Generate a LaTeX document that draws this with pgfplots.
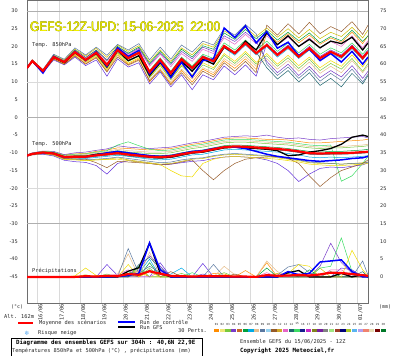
\documentclass[border=0pt]{standalone}
\usepackage{fontspec}
\setmainfont{DejaVu Sans}
\newfontfamily\mono{DejaVu Sans Mono}
\newfontfamily\ttl{Liberation Sans}
\usepackage{graphicx}
\usepackage{pgfplots}
\usepackage{pgfplotstable}
\pgfplotsset{compat=1.18}

\definecolor{m1}{RGB}{255,140,0}
\definecolor{m2}{RGB}{205,190,0}
\definecolor{m3}{RGB}{120,200,60}
\definecolor{m4}{RGB}{120,60,200}
\definecolor{m5}{RGB}{100,50,220}
\definecolor{m6}{RGB}{0,160,60}
\definecolor{m7}{RGB}{0,170,230}
\definecolor{m8}{RGB}{230,190,140}
\definecolor{m9}{RGB}{90,120,160}
\definecolor{m10}{RGB}{60,220,100}
\definecolor{m11}{RGB}{150,90,40}
\definecolor{m12}{RGB}{230,100,200}
\definecolor{m13}{RGB}{30,100,110}
\definecolor{m14}{RGB}{240,220,0}
\definecolor{ctrlc}{RGB}{0,0,255}
\definecolor{meanc}{RGB}{255,0,0}
\definecolor{gridc}{RGB}{218,218,218}
\definecolor{sepc}{RGB}{175,175,175}
\definecolor{axc}{RGB}{110,110,110}
\definecolor{txt}{RGB}{40,40,40}

\pgfplotstableread{
t c1 c2 c3 c4 c5 c6 c7 c8 c9 c10 c11 c12 c13 c14 ctrl gfs mean
0     13.8 14.0 13.9 14.1 13.7 13.9 14.0 13.8 14.1 13.9 13.8 14.0 13.9 13.7 13.9 13.9 13.9
0.25  15.7 16.1 15.8 16.0 15.6 16.2 15.9 15.8 16.0 15.7 16.1 15.9 15.8 16.0 15.9 15.9 15.9
0.75  12.9 13.4 13.0 13.3 12.6 13.2 13.1 12.8 13.5 13.0 12.7 13.3 13.1 12.9 12.5 13.0 13.1
1.25  16.5 17.6 16.8 17.3 16.2 17.4 17.0 16.6 17.8 16.9 16.4 17.2 17.1 16.7 17.2 16.9 17.0
1.75  15.0 16.2 15.3 16.0 14.8 15.9 15.5 15.2 16.4 15.7 15.0 15.8 15.6 15.1 15.5 15.4 15.6
2.25  17.5 19.2 18.0 18.9 17.0 19.0 18.3 17.8 19.6 18.5 17.3 18.8 18.6 17.9 18.6 18.2 18.4
2.75  15.2 17.3 15.8 16.9 14.6 16.8 16.1 15.5 17.6 16.4 15.0 16.7 16.3 15.6 16.0 16.1 16.2
3.25  17.0 19.5 17.6 19.0 16.2 18.9 18.1 17.2 19.8 18.4 16.8 18.7 18.3 17.4 18.5 18.0 18.2
3.75  13.0 16.9 13.8 16.2 11.6 16.0 14.6 13.3 17.5 15.0 12.8 15.8 15.1 13.5 14.4 14.2 14.8
4.25  17.6 20.4 18.2 19.9 16.5 20.0 18.8 17.5 20.6 19.3 17.0 19.7 19.2 18.0 19.6 18.8 19.0
4.75  15.0 18.6 15.8 17.9 14.2 18.1 16.5 14.6 19.0 17.0 14.8 17.6 16.9 15.3 17.2 16.0 16.7
5.25  16.5 20.2 17.2 19.5 15.4 19.8 18.0 16.0 20.8 18.5 16.2 19.3 18.4 16.8 18.9 17.4 18.2
5.75  10.0 15.6 11.2 14.8 9.4 15.2 12.5 10.6 16.2 13.2 10.3 14.4 13.0 11.5 12.2 11.8 12.8
6.25  13.5 19.0 14.6 18.2 12.8 18.6 16.0 13.8 19.8 16.8 13.2 17.8 16.5 14.8 15.8 15.4 16.2
6.75  9.5 15.8 10.6 14.9 8.6 15.3 12.2 10.0 16.4 13.0 9.2 14.3 12.8 11.0 11.2 11.6 12.5
7.25  13.2 19.6 14.5 18.6 12.0 19.2 16.0 13.6 20.4 17.0 12.6 18.0 16.8 14.8 15.5 15.8 16.4
7.75  10.0 17.6 11.6 16.5 7.8 17.0 13.4 10.8 18.4 14.5 9.2 15.8 14.2 12.0 11.4 13.0 13.9
8.25  13.6 20.8 14.8 19.8 12.0 20.2 16.6 14.0 21.5 17.8 13.0 19.2 17.4 15.4 16.0 16.4 17.0
8.75  12.0 19.8 13.5 18.6 10.6 19.2 15.4 12.6 20.4 16.6 11.4 18.0 16.0 14.0 16.5 15.0 15.8
9.25  16.0 24.4 17.5 23.0 14.5 23.8 19.6 16.6 25.0 21.0 15.4 22.4 20.3 18.0 25.2 19.8 20.1
9.75  13.8 22.6 15.2 21.4 12.0 22.0 17.5 14.6 23.2 19.0 13.0 20.6 18.4 15.8 22.5 18.0 18.1
10.25 16.5 25.4 18.0 24.0 14.8 24.8 20.4 17.2 26.2 21.8 15.8 23.4 21.2 18.6 25.8 21.5 20.9
10.75 13.5 22.8 15.0 21.5 11.6 22.2 17.6 14.4 23.6 19.0 12.6 20.8 18.4 15.5 21.0 19.0 18.1
11.25 23.8 25.2 17.4 15.8 20.8 24.5 20.0 16.6 15.0 21.5 26.0 23.0 14.0 18.0 24.2 23.8 20.4
11.75 21.2 22.6 14.4 12.6 18.0 21.8 17.0 13.6 11.8 18.6 23.2 20.4 10.8 15.0 19.5 20.5 17.6
12.25 23.6 25.0 16.8 15.0 20.4 24.0 19.4 16.0 14.2 21.0 26.4 22.6 13.2 17.5 21.2 23.0 19.9
12.75 21.0 22.4 13.8 11.8 17.6 21.6 16.6 13.0 11.0 18.2 23.5 20.0 10.0 14.6 17.4 20.0 17.1
13.25 23.2 24.8 16.4 14.4 20.0 23.8 19.0 15.6 13.6 20.6 26.8 22.4 12.6 17.0 19.2 22.0 19.5
13.75 20.6 22.2 13.2 11.2 17.2 21.0 16.2 12.4 10.2 17.8 23.6 19.6 9.0 14.0 16.0 19.6 16.7
14.25 22.4 24.0 15.2 13.2 19.0 22.8 18.0 14.4 12.4 19.6 25.6 21.4 11.0 16.0 18.0 21.5 18.5
14.75 21.2 22.8 13.6 11.4 17.6 21.6 16.6 12.6 10.4 18.2 24.2 20.0 8.6 14.4 15.6 20.8 17.1
15.25 24.0 25.4 16.6 14.6 20.4 24.6 19.4 16.0 13.6 21.0 27.0 23.0 12.4 17.6 18.6 22.6 19.9
15.75 20.8 22.4 13.0 11.0 17.2 21.4 16.2 12.6 10.0 17.8 23.4 19.6 9.4 14.2 15.0 19.0 16.7
16    23.0 24.6 15.2 13.0 19.0 23.0 18.2 14.6 12.2 19.6 26.0 21.6 11.8 16.4 17.0 21.0 18.5
}\tabA

\pgfplotstableread{
t c1 c2 c3 c4 c5 c6 c7 c8 c9 c10 c11 c12 c13 c14 ctrl gfs mean
0     -10.7 -10.9 -10.8 -10.6 -11.0 -10.8 -10.7 -10.9 -10.8 -10.6 -11.0 -10.8 -10.7 -10.9 -10.8 -10.8 -10.8
0.25  -10.1 -10.5 -10.2 -10.0 -10.6 -10.3 -10.4 -10.2 -10.5 -10.1 -10.4 -10.3 -10.2 -10.6 -10.3 -10.3 -10.3
0.75  -9.6 -10.2 -9.8 -9.5 -10.4 -9.9 -10.0 -9.7 -10.3 -9.6 -10.1 -9.8 -9.9 -10.2 -10.0 -9.9 -9.9
1.25  -9.8 -10.6 -10.0 -9.6 -10.9 -10.2 -10.4 -9.9 -10.7 -9.8 -10.5 -10.1 -10.3 -10.6 -10.2 -10.1 -10.2
1.75  -10.6 -11.8 -11.0 -10.5 -12.1 -11.1 -11.4 -10.8 -11.7 -10.7 -11.6 -11.2 -11.3 -11.9 -11.3 -11.1 -11.2
2.25  -10.3 -11.9 -10.8 -10.0 -12.5 -11.0 -11.5 -10.6 -11.8 -10.4 -11.7 -11.2 -11.3 -12.0 -11.2 -11.0 -11.1
2.75  -10.2 -12.1 -10.7 -9.8 -12.7 -11.0 -11.6 -10.5 -12.0 -10.3 -11.8 -11.2 -11.4 -12.2 -11.1 -11.0 -11.1
3.25  -9.6 -12.0 -10.3 -9.3 -13.6 -10.5 -11.3 -10.0 -11.8 -9.8 -12.8 -10.8 -11.0 -12.0 -10.6 -10.4 -10.7
3.75  -9.2 -11.8 -9.8 -8.9 -16.0 -10.2 -11.0 -9.6 -11.6 -9.4 -14.2 -10.6 -10.7 -11.9 -10.0 -10.2 -10.4
4.25  -8.6 -11.4 -9.4 -8.0 -13.0 -9.8 -10.7 -9.0 -11.2 -7.8 -12.4 -10.2 -10.4 -11.8 -9.6 -9.8 -10.1
4.75  -8.8 -12.0 -9.8 -8.4 -12.2 -10.2 -11.0 -9.4 -11.6 -6.9 -12.6 -10.6 -10.9 -12.2 -10.0 -10.4 -10.5
5.25  -9.0 -12.4 -10.0 -8.6 -12.6 -10.4 -11.4 -9.6 -12.0 -8.0 -12.8 -11.0 -11.2 -12.6 -10.4 -10.8 -10.8
5.75  -9.2 -12.8 -10.2 -8.8 -13.0 -10.7 -11.8 -9.8 -12.4 -9.0 -13.0 -11.3 -11.5 -13.0 -10.8 -11.2 -11.1
6.25  -9.0 -13.2 -10.2 -8.6 -13.4 -10.8 -12.0 -9.8 -12.8 -9.4 -13.4 -11.4 -11.6 -13.3 -11.0 -11.4 -11.2
6.75  -8.8 -13.0 -10.0 -8.4 -13.2 -10.6 -11.8 -9.6 -12.6 -9.2 -13.2 -11.2 -11.4 -15.0 -10.8 -11.2 -11.0
7.25  -8.2 -12.4 -9.4 -7.8 -12.8 -10.0 -11.2 -9.0 -12.0 -8.6 -12.6 -10.6 -10.8 -16.5 -10.2 -10.6 -10.4
7.75  -7.6 -11.8 -8.8 -7.2 -12.4 -9.5 -10.6 -8.4 -11.6 -8.0 -12.0 -10.1 -10.2 -16.8 -9.6 -10.0 -9.9
8.25  -7.2 -11.6 -8.4 -6.8 -12.2 -9.2 -10.4 -8.0 -11.4 -7.6 -15.0 -9.8 -9.9 -13.0 -9.4 -9.8 -9.6
8.75  -6.6 -11.0 -7.8 -6.2 -11.6 -8.6 -9.8 -7.4 -10.8 -7.0 -17.6 -9.2 -9.3 -11.8 -8.8 -9.2 -9.0
9.25  -6.0 -10.6 -7.2 -5.6 -11.2 -8.0 -9.2 -6.8 -10.4 -6.4 -15.0 -8.6 -8.7 -11.2 -8.4 -8.6 -8.4
9.75  -5.8 -10.4 -7.0 -5.4 -11.0 -7.8 -9.0 -6.6 -10.2 -6.2 -13.0 -8.4 -8.5 -11.0 -8.4 -8.4 -8.2
10.25 -5.8 -10.6 -7.0 -5.2 -11.2 -7.9 -9.2 -6.6 -10.4 -6.2 -11.8 -8.5 -8.6 -11.2 -8.8 -8.6 -8.3
10.75 -6.0 -10.8 -7.2 -5.4 -11.4 -8.1 -9.4 -6.8 -10.6 -6.4 -11.4 -8.7 -8.8 -11.4 -9.6 -8.8 -8.5
11.25 -6.2 -11.0 -7.4 -5.0 -12.0 -8.3 -9.6 -7.0 -10.8 -6.6 -11.2 -8.9 -9.0 -11.6 -10.4 -9.0 -8.7
11.75 -6.2 -11.4 -7.6 -5.6 -13.0 -8.5 -9.8 -7.2 -11.2 -6.8 -11.0 -9.1 -9.2 -11.8 -11.0 -9.4 -8.9
12.25 -6.4 -11.8 -7.8 -6.0 -15.0 -8.8 -10.2 -7.4 -11.6 -7.0 -11.6 -9.4 -9.5 -12.2 -11.4 -10.8 -9.2
12.75 -6.8 -12.2 -8.2 -5.8 -18.1 -9.2 -10.6 -7.8 -12.0 -7.4 -13.0 -9.8 -9.9 -12.6 -11.8 -10.6 -9.6
13.25 -7.2 -12.8 -8.6 -6.2 -16.0 -9.6 -11.2 -8.2 -12.6 -7.8 -16.5 -10.3 -10.4 -13.2 -12.2 -9.8 -10.1
13.75 -7.2 -13.0 -8.8 -6.4 -14.4 -9.8 -11.4 -8.4 -12.8 -8.0 -19.5 -10.4 -10.5 -13.4 -12.4 -9.4 -10.2
14.25 -7.0 -13.0 -8.6 -6.0 -14.0 -9.6 -11.2 -8.2 -13.0 -7.8 -17.0 -10.3 -10.4 -13.6 -12.2 -8.8 -10.1
14.75 -6.8 -13.2 -8.6 -5.8 -14.2 -9.6 -11.4 -8.2 -13.2 -18.0 -15.0 -10.3 -10.4 -13.6 -12.0 -7.6 -10.1
15.25 -6.6 -13.0 -8.4 -5.6 -13.8 -9.4 -11.2 -8.0 -13.0 -16.5 -14.0 -10.2 -10.3 -13.4 -11.6 -5.6 -10.0
15.75 -6.4 -12.8 -8.2 -5.4 -13.4 -9.2 -11.0 -7.8 -13.0 -13.0 -13.0 -10.0 -10.1 -13.2 -11.4 -5.0 -9.8
16    -6.2 -12.6 -8.0 -5.8 -12.8 -9.0 -10.8 -7.6 -12.6 -11.0 -12.0 -9.9 -10.0 -13.0 -11.0 -5.4 -9.7
}\tabB

\pgfplotstableread{
t c1 c2 c3 c4 c5 c6 c7 c8 c9 c10 c11 c12 c13 c14 ctrl gfs mean
0     0 0 0 0 0 0 0 0 0 0 0 0 0 0 0 0 0
0.25  0 0 0 0 0 0 0 0 0 0 0 0 0 0 0 0 0
0.75  0 0 0 0 0 0 0 0 0 0 0 0 0 0 0 0 0
1.25  0 0 0 0 0 0 0 0 0 0 0 0 0 0 0 0 0
1.75  0 0 0 0 0 0 0 0 0 0 0 0 0 0 0 0 0
2.25  0 0 0 0 0 0 0 0 0 0 0 0 0 0.3 0 0 0
2.75  0 0.6 0 0 0 0 0 0 0 0 0 0 0 2.5 0 0 0.2
3.25  0 0 0 0 0 0 0 0 0 0 0.3 0 0 0.4 0 0 0.1
3.75  0 0 0.8 0 3.5 0 0 0 0 0 0 0.5 0 0 0 0 0.3
4.25  0 0 0 0 0.4 0 0 0.8 0 0 0 0.6 0 0 0.1 0 0.2
4.75  1.0 0 0.8 0 0 1.5 0 6.5 8.0 0 0 2.0 0 3.5 0.4 1.6 0.8
5.25  1.5 2.5 0 2.0 0 0 1.2 0 1.0 3.0 0 0 3.5 0 1.0 2.6 0.6
5.75  0 0 2.5 6.0 0 4.0 5.0 7.0 3.0 0 2.0 0 5.5 1.5 9.6 9.5 1.6
6.25  0 0 0 3.0 4.0 0 0 0 1.2 0 0 1.5 2.5 0 2.0 1.0 0.9
6.75  0 0 0 0 0 0 0.8 0 0 0 1.5 0 0 0 0 0 0.3
7.25  0 0 1.0 0 0 0 2.5 0 0.5 0 0 0 0 0 0 0 0.2
7.75  0 0 0 0 0 0 0 0.5 0 1.2 0 0 0 0 0 0 0.1
8.25  0 0 0 0.8 3.8 0 0 0 0 0 0 0 0 0 0 0 0.2
8.75  1.0 0 0 0 0 0 0 0 3.5 0 0 0 0 0 0 0 0.2
9.25  0.8 0 1.2 0 0 0 0 3.0 0 0 0 0 0 0 0 0 0.2
9.75  0 0 0 0 0 0 0 0.6 0 0 0.8 0 0 0 0 0 0.1
10.25 1.8 0 0 0 0 0 0 0 0 0 0 0 0 0 0 0 0.1
10.75 0 0 0 0 0 0 0 0 0 0 0 0 0 0 0 0 0
11.25 4.0 0 0 0 0 2.5 0 4.5 0 0 0 1.2 0 0 0 0 0.5
11.75 0 1.0 0 0 0 0 0 1.5 0.5 0 0 0 0 0 0 0 0.3
12.25 0 0 0 0 0 0 0 0 2.8 0 0 0 1.0 1.0 1.5 1.2 0.4
12.75 0 0 0 0 0 0 0 0 3.5 0 0 1.0 0 3.5 0.6 1.8 0.5
13.25 0 0 0 0 1.0 2.0 0 0 1.2 0 0 0 0 3.0 1.0 0 0.4
13.75 0 2.5 0 3.0 0 0 0 0 0 2.5 0 0 0 0 4.2 0 0.7
14.25 0 0 0 9.5 0 1.5 0 0 0 3.0 0 2.0 0 0 4.5 0 1.2
14.75 0 0 0 4.0 2.5 0 0 0 0 11.0 0 2.0 0 0 4.8 1.0 1.1
15.25 0 0 0 1.0 2.0 0 0 0 0 1.5 0 0 0 7.5 1.5 0 0.8
15.75 0 0 0 0 0 0 0 0 4.5 0 0 0 1.5 2.0 0 0.6 0.5
16    0 0 0 0 0 0 0 0 0.5 0 0 0 0 0.3 0 0 0.3
}\tabC

\pgfplotsset{
  memline/.style={line width=0.5pt, mark=none},
  ctrlline/.style={ctrlc, line width=1.5pt, mark=none},
  gfsline/.style={black, line width=1.3pt, mark=none},
  meanline/.style={meanc, line width=2.2pt, mark=none},
  common/.style={
    at={(27pt,51.5pt)}, anchor=south west,
    scale only axis, width=341pt, height=303.5pt,
    xmin=0, xmax=16,
    major tick length=0pt,
    axis line style={draw=axc, line width=0.8pt},
    /pgf/number format/assume math mode=true,
  },
}

\newcommand{\ttltext}{\resizebox{190pt}{9.5pt}{\ttl GEFS-12Z-UPD:\ 15-06-2025\ \ 22:00}}

\begin{document}
\begin{tikzpicture}[x=1pt,y=1pt]
\path[use as bounding box] (0,0) rectangle (395,355);

\begin{axis}[common,
  ymin=-52.5, ymax=33.1,
  xtick={0.5,1.5,...,15.5},
  xticklabels={16/06,17/06,18/06,19/06,20/06,21/06,22/06,23/06,24/06,25/06,26/06,27/06,28/06,29/06,30/06,01/07},
  xticklabel style={rotate=90, anchor=north east, inner sep=0.6pt, text=txt, font=\mono\fontsize{5.3}{6}\selectfont},
  xmajorgrids, grid style={draw=gridc, line width=0.7pt},
  ytick={-45,-40,...,30},
  yticklabel style={inner sep=0pt, xshift=-9pt, text=txt, font=\fontsize{5}{6}\selectfont},
]
\draw[sepc, line width=0.9pt] (axis cs:0,30) -- (axis cs:16,30);
\draw[gridc, line width=0.7pt] (axis cs:0,10) -- (axis cs:16,10);
\draw[sepc, line width=0.9pt] (axis cs:0,0) -- (axis cs:16,0);
\draw[gridc, line width=0.7pt] (axis cs:0,-20) -- (axis cs:16,-20);
\draw[sepc, line width=0.9pt] (axis cs:0,-30) -- (axis cs:16,-30);
\pgfplotsinvokeforeach{1,...,14}{
  \addplot[memline, m#1] table[x=t, y=c#1] {\tabA};
  \addplot[memline, m#1] table[x=t, y=c#1] {\tabB};
}
\addplot[gfsline] table[x=t, y=gfs] {\tabA};
\addplot[gfsline] table[x=t, y=gfs] {\tabB};
\addplot[ctrlline] table[x=t, y=ctrl] {\tabA};
\addplot[ctrlline] table[x=t, y=ctrl] {\tabB};
\addplot[meanline] table[x=t, y=mean] {\tabA};
\addplot[meanline] table[x=t, y=mean] {\tabB};
\end{axis}

\begin{axis}[common,
  ymin=-7.5, ymax=78.1,
  axis y line*=right, hide x axis,
  ytick={0,5,...,75},
  yticklabel style={anchor=west, inner sep=0pt, xshift=12pt, text=txt, font=\fontsize{5}{6}\selectfont},
]
\pgfplotsinvokeforeach{1,...,14}{
  \addplot[memline, m#1] table[x=t, y=c#1] {\tabC};
}
\addplot[gfsline] table[x=t, y=gfs] {\tabC};
\addplot[ctrlline] table[x=t, y=ctrl] {\tabC};
\addplot[meanline] table[x=t, y=mean] {\tabC};
\end{axis}

% title with thin outline
\foreach \dx/\dy in {-0.3/0,0.3/0,0/-0.3,0/0.3} {
  \node[anchor=west, inner sep=0pt, text={rgb,255:red,150;green,150;blue,30}] at (30+\dx,328+\dy) {\ttltext};
}
\node[anchor=west, inner sep=0pt, text={rgb,255:red,240;green,240;blue,0}] at (30,328) {\ttltext};

\node[anchor=west, inner sep=0pt, text=txt, font=\mono\fontsize{5.3}{6}\selectfont] at (32,310) {Temp. 850hPa};
\node[anchor=west, inner sep=0pt, text=txt, font=\mono\fontsize{5.3}{6}\selectfont] at (32,211) {Temp. 500hPa};
\node[anchor=west, inner sep=0pt, text=txt, font=\mono\fontsize{5.3}{6}\selectfont] at (32,84) {Précipitations};

\node[anchor=west, inner sep=0pt, text=txt, font=\mono\fontsize{5}{6}\selectfont] at (11,48) {(°c)};
\node[anchor=west, inner sep=0pt, text=txt, font=\mono\fontsize{5.3}{6}\selectfont] at (4,38) {Alt. 162m};
\node[anchor=west, inner sep=0pt, text=txt, font=\mono\fontsize{5}{6}\selectfont] at (379,48) {(mm)};

% legend
\draw[meanc, line width=2.2pt] (18,32) -- (33,32);
\node[anchor=west, inner sep=0pt, text=txt, font=\mono\fontsize{5.3}{6}\selectfont] at (39,32) {Moyenne des scénarios};
\draw[ctrlc, line width=2pt] (118,32.5) -- (135,32.5);
\node[anchor=west, inner sep=0pt, text=txt, font=\mono\fontsize{5.3}{6}\selectfont] at (140,32.5) {Run de contrôle};
\draw[black, line width=2pt] (118,27.5) -- (135,27.5);
\node[anchor=west, inner sep=0pt, text=txt, font=\mono\fontsize{5.3}{6}\selectfont] at (140,27.5) {Run GFS};
\node[inner sep=0pt, text={rgb,255:red,90;green,170;blue,240}, font=\fontsize{6}{6}\selectfont] at (27,22) {\char"2744};
\node[anchor=west, inner sep=0pt, text=txt, font=\mono\fontsize{5.3}{6}\selectfont] at (38,22) {Risque neige};
\node[anchor=west, inner sep=0pt, text=txt, font=\mono\fontsize{5.3}{6}\selectfont] at (178,24) {30 Perts.};

\foreach \i/\c in {1/{255,140,0},2/{240,230,120},3/{120,200,60},4/{120,60,200},5/{200,100,40},6/{0,160,60},7/{0,170,230},8/{230,190,140},9/{90,120,160},10/{150,210,240},11/{150,90,40},12/{210,170,40},13/{230,100,200},14/{30,100,110},15/{60,220,100},16/{20,30,140},17/{200,40,200},18/{130,130,30},19/{120,30,160},20/{130,130,130},21/{160,230,130},22/{160,60,40},23/{0,0,120},24/{170,200,40},25/{90,180,240},26/{180,160,240},27/{240,130,110},28/{230,220,180},29/{120,0,0},30/{0,120,40}} {
  \pgfmathsetmacro{\xx}{216.5+(\i-1)*5.75}
  \definecolor{lc}{RGB}{\c}
  \fill[lc] (\xx-2.6,22.5) rectangle (\xx+2.6,25.5);
  \node[inner sep=0pt, text=txt, font=\mono\fontsize{2.8}{3}\selectfont] at (\xx,31) {\ifnum\i<10 0\fi\i};
}

\draw[black, line width=0.6pt] (11,-1) rectangle (202,17);
\node[anchor=west, inner sep=0pt, text=black, font=\mono\bfseries\fontsize{5.8}{6}\selectfont] at (16,12) {Diagramme des ensembles GEFS sur 304h : 40,6N 22,9E};
\node[anchor=west, inner sep=0pt, text=txt, font=\mono\fontsize{5.3}{6}\selectfont] at (12,4) {Températures 850hPa et 500hPa (°C) , précipitations (mm)};
\node[anchor=west, inner sep=0pt, text=txt, font=\mono\fontsize{5.3}{6}\selectfont] at (240,13) {Ensemble GEFS du 15/06/2025 - 12Z};
\node[anchor=west, inner sep=0pt, text=black, font=\mono\bfseries\fontsize{5.8}{6}\selectfont] at (240,4) {Copyright 2025 Meteociel,fr};
\end{tikzpicture}
\end{document}
